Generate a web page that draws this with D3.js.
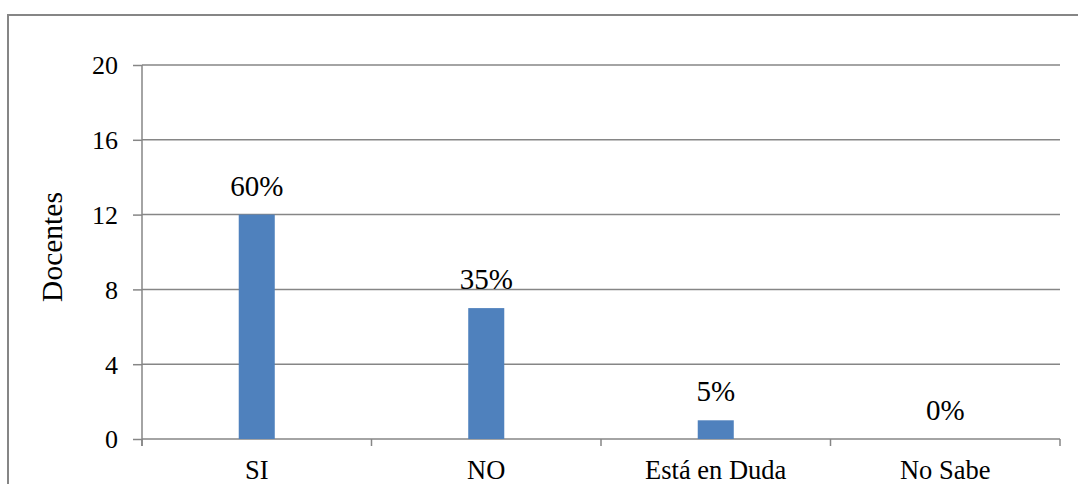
<!DOCTYPE html>
<html><head><meta charset="utf-8">
<script src="https://cdn.jsdelivr.net/npm/d3@7"></script>
<style>
body{margin:0;background:#fff;}
</style></head>
<body>
<svg id="c" width="1078" height="484"></svg>
<script>
const categories = ["SI", "NO", "Está en Duda", "No Sabe"];
const values = [12, 7, 1, 0];
const percentLabels = ["60%", "35%", "5%", "0%"];
const yTicks = [0, 4, 8, 12, 16, 20];
const yTitle = "Docentes";

const FONT = '"Liberation Serif"';
const svg = d3.select("#c");
const m = {left:142, right:1060, top:65, bottom:439};
const grid = "#868686";

// outer frame
svg.append("rect").attr("x",8).attr("y",15).attr("width",1100).attr("height",600)
  .attr("fill","none").attr("stroke",grid).attr("stroke-width",2);

const x = d3.scaleBand().domain(categories).range([m.left, m.right]).padding(0);
const y = d3.scaleLinear().domain([0,20]).range([m.bottom, m.top]);

// gridlines
svg.append("g").selectAll("line").data(yTicks.filter(d=>d>0)).join("line")
  .attr("x1",m.left).attr("x2",m.right)
  .attr("y1",d=>y(d)).attr("y2",d=>y(d))
  .attr("stroke",grid).attr("stroke-width",1.5);

// y axis
const ya = svg.append("g").attr("transform",`translate(${m.left},0)`)
  .call(d3.axisLeft(y).tickValues(yTicks).tickSize(9).tickPadding(15).tickFormat(d3.format("d")));
ya.attr("font-family",null).attr("font-size",null);
ya.select(".domain").remove();
ya.selectAll(".tick line").attr("stroke",grid).attr("stroke-width",1.5);
ya.selectAll(".tick text").style("font-size","26px").style("font-family",FONT).attr("fill","#000").attr("dy","0.34em");
svg.append("line").attr("x1",m.left).attr("x2",m.left).attr("y1",m.top).attr("y2",m.bottom+7)
  .attr("stroke",grid).attr("stroke-width",1.5);

// x axis line and boundary ticks
svg.append("line").attr("x1",m.left).attr("x2",m.right).attr("y1",m.bottom).attr("y2",m.bottom)
  .attr("stroke",grid).attr("stroke-width",1.5);
const bounds = categories.map(c=>x(c)).concat([m.right]);
svg.append("g").selectAll("line").data(bounds).join("line")
  .attr("x1",d=>d).attr("x2",d=>d).attr("y1",m.bottom).attr("y2",m.bottom+7)
  .attr("stroke",grid).attr("stroke-width",1.5);

// category labels
svg.append("g").selectAll("text").data(categories).join("text")
  .attr("x",d=>x(d)+x.bandwidth()/2).attr("y",479)
  .attr("text-anchor","middle").style("font-size","26.5px").style("font-family",FONT).text(d=>d);

// bars
const bw = x.bandwidth()*0.157;
svg.append("g").selectAll("rect").data(values).join("rect")
  .attr("x",(d,i)=>x(categories[i])+x.bandwidth()/2-bw/2)
  .attr("width",bw)
  .attr("y",d=>y(d)).attr("height",d=>y(0)-y(d))
  .attr("fill","#4F81BD");

// data labels
svg.append("g").selectAll("text").data(values).join("text")
  .attr("x",(d,i)=>x(categories[i])+x.bandwidth()/2)
  .attr("y",d=>y(d)-19)
  .attr("text-anchor","middle").style("font-size","29px").style("font-family",FONT).text((d,i)=>percentLabels[i]);

// y title
svg.append("text").attr("transform",`translate(62,247) rotate(-90)`)
  .attr("text-anchor","middle").style("font-size","29.5px").style("font-family",FONT).text(yTitle);
</script>
</body></html>
